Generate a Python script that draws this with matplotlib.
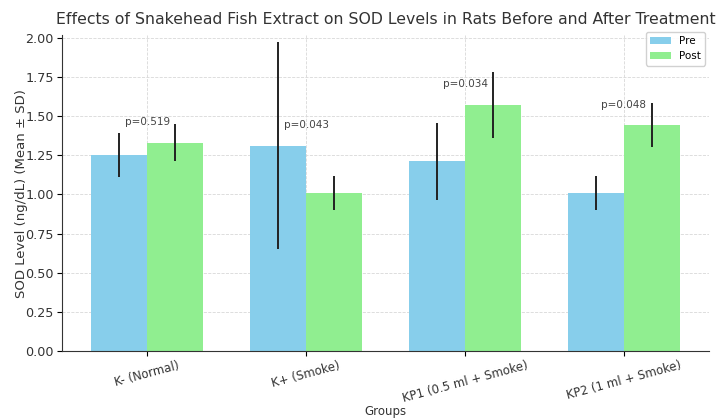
import numpy as np
import matplotlib.pyplot as plt

groups = ["K- (Normal)", "K+ (Smoke)", "KP1 (0.5 ml + Smoke)", "KP2 (1 ml + Smoke)"]
pre_mean = [1.25, 1.31, 1.21, 1.01]
pre_sd = [0.14, 0.66, 0.245, 0.11]
post_mean = [1.33, 1.01, 1.57, 1.44]
post_sd = [0.12, 0.11, 0.21, 0.14]
p_values = ["p=0.519", "p=0.043", "p=0.034", "p=0.048"]

fig = plt.figure(figsize=(7.22, 4.19), dpi=100)
ax = fig.add_axes([0.086, 0.162, 0.896, 0.754])

x = np.arange(len(groups))
w = 0.35
err_kw = dict(ecolor="#222222", elinewidth=1.4, capsize=0)
ax.bar(x - w / 2, pre_mean, w, yerr=pre_sd, color="#87CEEB", label="Pre", error_kw=err_kw, zorder=2)
ax.bar(x + w / 2, post_mean, w, yerr=post_sd, color="#90EE90", label="Post", error_kw=err_kw, zorder=2)

# p-value above the taller mean of each group
for i, p in enumerate(p_values):
    top = max(pre_mean[i], post_mean[i])
    ax.text(x[i], top + 0.1, p, ha="center", va="bottom", fontsize=7.5, color="#444444", zorder=3)

ax.set_xticks(x)
ax.set_xticklabels(groups, rotation=15, ha="center", fontsize=8.5, color="#333333")
ax.tick_params(axis="x", pad=2)
ax.tick_params(axis="y", labelsize=9.2, labelcolor="#333333", pad=2.5)
ax.set_yticks(np.arange(0, 2.01, 0.25))
ax.set_ylim(0, 2.015)
ax.set_xlim(-0.535, 3.535)

ax.set_xlabel("Groups", fontsize=8.5, color="#333333", labelpad=0)
ax.set_ylabel("SOD Level (ng/dL) (Mean ± SD)", fontsize=9.5, color="#333333")
ax.yaxis.set_label_coords(-0.053, 0.5)
ax.set_title("Effects of Snakehead Fish Extract on SOD Levels in Rats Before and After Treatment",
             fontsize=11.3, color="#333333", pad=8)

ax.grid(True, linestyle="--", color="#d8d8d8", linewidth=0.6, zorder=0)
ax.set_axisbelow(True)
ax.spines["top"].set_visible(False)
ax.spines["right"].set_visible(False)
ax.spines["left"].set_color("#333333")
ax.spines["bottom"].set_color("#333333")
ax.legend(loc="upper right", bbox_to_anchor=(0.994, 1.01), borderaxespad=0,
          fontsize=7.5, framealpha=0.9)

fig.savefig("out.png", dpi=100)
